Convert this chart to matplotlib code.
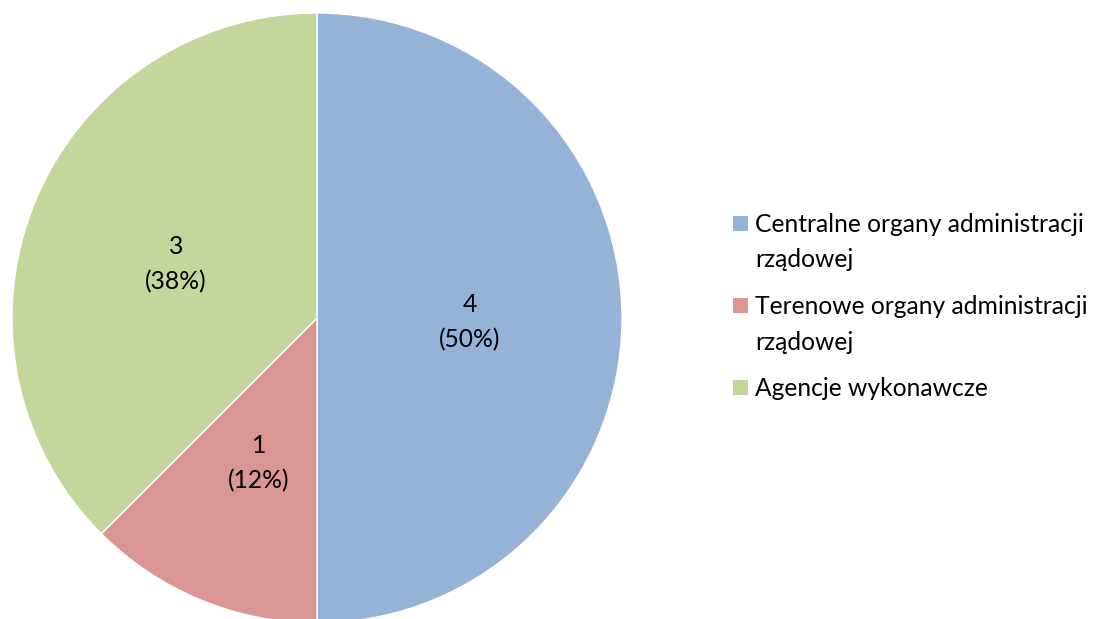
import matplotlib.pyplot as plt
from matplotlib.patches import Rectangle

categories = ['Centralne organy administracji\nrządowej',
              'Terenowe organy administracji\nrządowej',
              'Agencje wykonawcze']
values = [4, 1, 3]
colors = ['#95B3D7', '#D99694', '#C3D69B']

plt.rcParams['font.family'] = ['Lato', 'DejaVu Sans']

W, H = 1094, 619
fig = plt.figure(figsize=(W / 100, H / 100), dpi=100)
ax = fig.add_axes([12 / W, (H - 318 - 305) / H, 610 / W, 610 / H])


def fmt(pct):
    n = int(round(pct * sum(values) / 100.0))
    return '%d\n(%d%%)' % (n, round(pct))


wedges, texts, autotexts = ax.pie(values, colors=colors, startangle=90, counterclock=False,
                                  autopct=fmt, pctdistance=0.5, radius=1,
                                  wedgeprops=dict(edgecolor='white', linewidth=1),
                                  textprops=dict(fontsize=17.7, color='black', linespacing=1.62))
# labels sit a touch lower in the original
for t in autotexts:
    px, py = t.get_position()
    t.set_position((px, py - 0.015))
ax.set_xlim(-1, 1)
ax.set_ylim(-1, 1)

# legend drawn by hand: square next to the first line of each label
y = 224
for lab, c in zip(categories, colors):
    fig.add_artist(Rectangle((733 / W, 1 - (y + 7) / H), 15 / W, 15 / H,
                             transform=fig.transFigure, facecolor=c, edgecolor='none'))
    for line in lab.split('\n'):
        fig.text(755 / W, 1 - y / H, line, va='center', ha='left', fontsize=17.7)
        y += 36
    y += 10

fig.savefig('out.png', dpi=100)
